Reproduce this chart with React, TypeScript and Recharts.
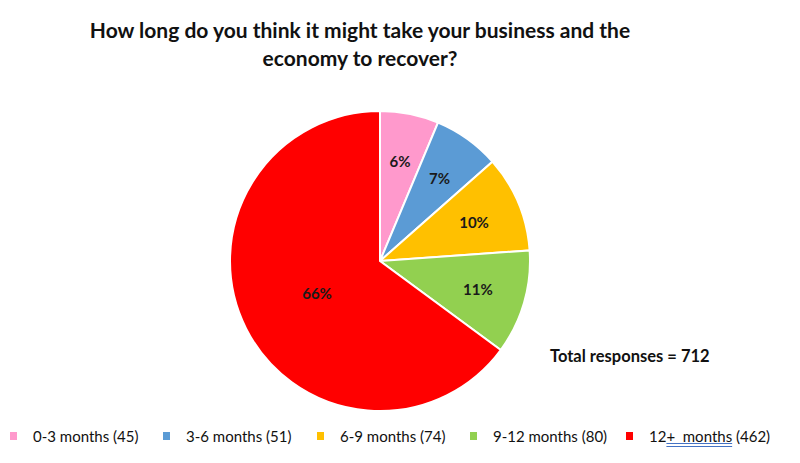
import React from 'react';
import { PieChart, Pie, Cell, Legend } from 'recharts';

const categories = ['0-3 months', '3-6 months', '6-9 months', '9-12 months', '12+  months'];
const responses = [45, 51, 74, 80, 462];
const percentLabels = ['6%', '7%', '10%', '11%', '66%'];
const colors = ['#FF99CC', '#5B9BD5', '#FFC000', '#92D050', '#FF0000'];
const totalResponses = 712;

const data = categories.map((name, i) => ({ name, value: responses[i], label: percentLabels[i] }));

const RADIAN = Math.PI / 180;
// left edge of each legend swatch
const legendX = [10, 163, 317, 470, 626];

// eslint-disable-next-line @typescript-eslint/no-explicit-any
const renderLabel = (props: any) => {
  const { cx, cy, midAngle, outerRadius, index } = props;
  const big = index === data.length - 1;
  const r = outerRadius * (big ? 0.47 : 0.68);
  const x = cx + r * Math.cos(-midAngle * RADIAN);
  const y = cy + r * Math.sin(-midAngle * RADIAN);
  return (
    <text x={x} y={y} textAnchor="middle" dominantBaseline="central"
      style={{ fontFamily: 'Lato, sans-serif', fontWeight: 700, fontSize: 15, fill: '#1a1a1a' }}>
      {data[index].label}
    </text>
  );
};

const LegendContent = () => (
  <div style={{ position: 'relative', width: 800, height: 20, fontFamily: 'Lato, sans-serif', fontSize: 15, color: '#111' }}>
    {data.map((d, i) => (
      <div key={d.name} style={{ position: 'absolute', left: legendX[i], top: 0, display: 'flex', alignItems: 'center', whiteSpace: 'pre', height: 20 }}>
        <span style={{ width: 7, height: 8, background: colors[i], display: 'inline-block', marginRight: 16 }} />
        {i === data.length - 1 ? (
          <span>
            12<span style={{ textDecoration: 'underline double #4472C4' }}>+  months</span> ({d.value})
          </span>
        ) : (
          <span>{`${d.name} (${d.value})`}</span>
        )}
      </div>
    ))}
  </div>
);

export default function App() {
  return (
    <div style={{ position: 'absolute', left: 0, top: 0, width: 800, height: 463, background: '#fff' }}>
      <div style={{
        position: 'absolute', left: 0, top: 16, width: 720, textAlign: 'center',
        fontFamily: 'Lato, sans-serif', fontWeight: 700, fontSize: 21, lineHeight: '28px', color: '#111',
      }}>
        How long do you think it might take your business and the<br />economy to recover?
      </div>
      <div style={{
        position: 'absolute', left: 550, top: 346, fontFamily: 'Lato, sans-serif',
        fontWeight: 700, fontSize: 16.5, color: '#111',
      }}>
        Total responses = {totalResponses}
      </div>
      <PieChart width={800} height={463} margin={{ top: 0, right: 0, bottom: 0, left: 0 }}>
        <Pie
          data={data}
          dataKey="value"
          nameKey="name"
          cx={380}
          cy={261}
          outerRadius={150}
          startAngle={90}
          endAngle={-270}
          stroke="#fff"
          strokeWidth={2}
          label={renderLabel}
          labelLine={false}
          isAnimationActive={false}
        >
          {data.map((d, i) => <Cell key={d.name} fill={colors[i]} />)}
        </Pie>
        <Legend
          verticalAlign="bottom"
          align="left"
          content={<LegendContent />}
          wrapperStyle={{ bottom: 17, left: 0, width: 800 }}
        />
      </PieChart>
    </div>
  );
}
